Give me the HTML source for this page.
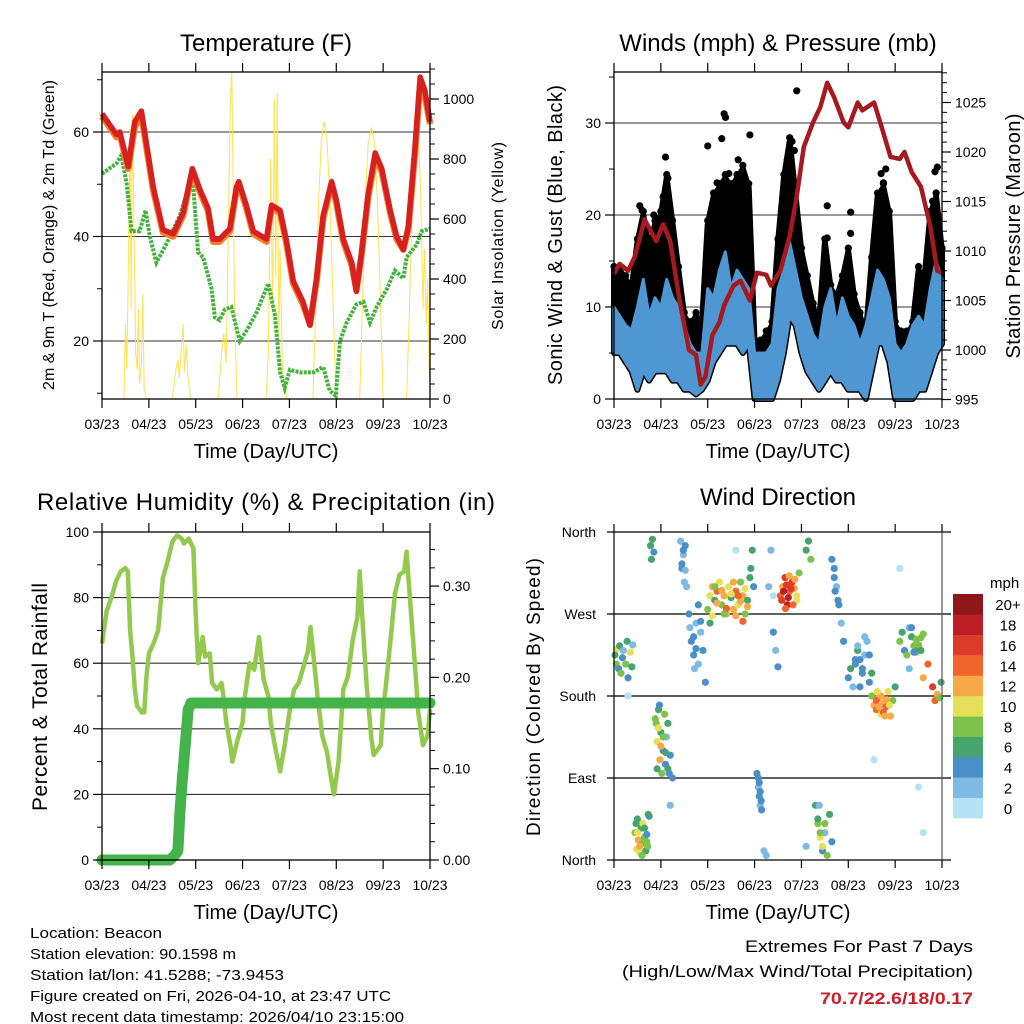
<!DOCTYPE html>
<html><head><meta charset="utf-8"><style>
html,body{margin:0;padding:0;background:#fff;}
svg{display:block;font-family:"Liberation Sans",Arial,sans-serif;}
</style></head><body>
<svg id="fig" width="1024" height="1024" viewBox="0 0 1024 1024" xmlns="http://www.w3.org/2000/svg"></svg>
<script>
// ---------- DATA ----------
var dayTickLabels = ["03/23","04/23","05/23","06/23","07/23","08/23","09/23","10/23"];
// Temperature
var tDays = [0,0.31,0.38,0.56,0.7,0.84,1.09,1.3,1.52,1.73,1.93,2.09,2.26,2.37,2.51,2.73,2.87,2.92,3.08,3.23,3.51,3.62,3.8,3.94,4.08,4.29,4.44,4.58,4.72,4.9,5.0,5.15,5.33,5.43,5.54,5.68,5.83,5.97,6.15,6.29,6.43,6.54,6.68,6.79,6.89,7.0];
var tempRed = [63.5,59.5,60,53.4,62,64,49.6,41.3,40.5,44.5,53,49,45.5,39.5,39.5,41.5,49.5,50.5,46,41,39.5,46,45,39,31.5,27.5,23,32,44,50.5,47,39.5,35,29.5,37,48,56,53,45,40,37.5,42,57,70.5,68,62];
var tempOrange = [63,59,59.5,53,61,63.2,49,40.8,40,44,52.5,48.5,45,39,39,41,49,50,45.5,40.5,39,45.5,44.5,38.5,31,27,23.2,31.5,43.5,50,46.5,39,34.5,29.8,36.5,47.5,55,52.5,44.5,39.5,37.5,41.5,56,69.5,67,61.5];
var tdDays = [0,0.31,0.41,0.53,0.63,0.8,0.93,1.02,1.16,1.37,1.66,1.8,1.93,2.05,2.16,2.34,2.41,2.51,2.62,2.76,2.94,3.12,3.3,3.55,3.69,3.8,3.9,4.01,4.22,4.51,4.72,4.86,4.99,5.08,5.22,5.43,5.58,5.72,5.86,6.08,6.25,6.43,6.5,6.72,6.82,7.0];
var dewpoint = [52,54,55.5,50,41,41,45,40,35,38.5,44,48,52,37,36,30,24.5,24,26,26.5,20,22.5,25.5,31,25,14,11,14.5,14,14,15,10.5,9.5,20,23.5,27,27.5,23.5,26.5,30,33.5,32,36,38.5,41,41.5];
var solarDays = [0,0.47,0.5,0.53,0.56,0.6,0.62,0.65,0.68,0.72,0.75,0.78,0.8,0.84,0.87,0.9,0.95,1.5,1.58,1.62,1.65,1.7,1.73,1.76,1.8,1.84,1.9,2.48,2.55,2.6,2.65,2.7,2.74,2.77,2.8,2.83,2.88,3.5,3.55,3.6,3.64,3.68,3.71,3.74,3.77,3.8,3.85,3.95,4.5,4.56,4.62,4.68,4.74,4.8,4.86,4.92,4.98,5.0,5.5,5.56,5.62,5.68,5.75,5.82,5.88,5.94,6.0,6.5,6.56,6.62,6.68,6.72,6.75,6.8,6.85,6.88,6.92,6.95,6.98,7.0];
var solarVals = [0,0,250,100,400,900,300,950,600,150,100,300,50,120,350,30,0,0,100,130,70,190,250,90,180,60,0,0,150,220,120,600,1000,1090,700,300,0,0,150,800,300,1000,400,1020,200,500,100,0,0,300,650,860,925,870,680,380,80,0,0,320,660,850,905,850,650,350,0,0,300,640,820,870,880,700,300,500,250,400,100,50];
// Winds (sampled every 1/8 day)
var windDays = [0,0.125,0.25,0.375,0.5,0.625,0.75,0.875,1,1.125,1.25,1.375,1.5,1.625,1.75,1.875,2,2.125,2.25,2.375,2.5,2.625,2.75,2.875,3,3.125,3.25,3.375,3.5,3.625,3.75,3.875,4,4.125,4.25,4.375,4.5,4.625,4.75,4.875,5,5.125,5.25,5.375,5.5,5.625,5.75,5.875,6,6.125,6.25,6.375,6.5,6.625,6.75,6.875,7];
var windLo = [5,5,4,3,1,3,2,3,3,3,2,2,1,1,0.5,1,2,4,5,6,6,6,5,6,0,0,0,0,2,5,9,8,5,3,2,1,2,3,2,2,1,1,1,0,3,6,6,4,0,0,0,0,1,1,3,5,6];
var windHi = [10,9,8,7.5,10,13,9,11,10,13,11,10,8,6,5,5,12,11,14,16,12,14,13,12,5,5,5,6,12,14,17,14,11,9,7,6,10,12,8,11,9,8,6,8,11,14,13,11,6,5,6,8,9,8,12,15,13];
var gustHi = [14,14,13,12,17,20,16,19,20,24,19,14,9,8,9,8,19,22,23,24,23,24,25,23,6,6,7,8,17,24,28,22,16,13,10,8,17,12,11,13,16,11,9,7,15,22,23,20,8,7,7,8,14,13,20,22,16];
var gustExtraDays = [2.0,2.3,2.35,2.38,2.9,3.9,3.8,4.55,4.55,5.05,5.05,6.9,6.85,1.1,0.55,0.85,3.85,2.65,1.15,5.8,0.6,1.05,2.2,2.45,2.7,3.7,3.78,5.7,5.75,6.8];
var gustExtraVals = [27.5,28.3,31,30.6,28.7,33.5,28,21,17.5,20.3,18,25.2,24.7,26.3,21,20,27,26,24,25,20.5,22,23.5,24.5,24,26,27,24.5,23.5,21.5];
var presDays = [0,0.12,0.3,0.45,0.6,0.65,0.9,1.05,1.2,1.4,1.6,1.75,1.85,1.95,2.1,2.25,2.35,2.55,2.7,2.9,3.05,3.25,3.35,3.55,3.75,3.9,4.05,4.25,4.4,4.55,4.7,4.9,5.0,5.2,5.3,5.55,5.7,5.9,6.1,6.2,6.35,6.55,6.75,6.9,7.0];
var pressure = [1007.7,1008.7,1008,1009.5,1012.2,1013.2,1011,1012.7,1011,1005,1000,999.5,996.5,997.3,1001.5,1002.8,1004.5,1006.5,1007,1005,1007.8,1007.6,1006.5,1008,1011.5,1015.5,1020.5,1023,1024.5,1027,1025.5,1023,1022.5,1025,1024.2,1025,1022.7,1019.5,1019.3,1020,1018,1016.5,1012.5,1008,1007.8];
// RH & precip
var rhDays = [0,0.1,0.2,0.3,0.4,0.5,0.55,0.6,0.65,0.7,0.75,0.85,0.9,0.95,1.0,1.1,1.2,1.3,1.4,1.5,1.6,1.7,1.75,1.85,1.95,2.0,2.05,2.15,2.2,2.3,2.35,2.45,2.55,2.6,2.65,2.75,2.78,2.9,3.0,3.05,3.15,3.25,3.35,3.45,3.55,3.6,3.7,3.8,3.9,4.0,4.1,4.2,4.3,4.4,4.45,4.5,4.6,4.7,4.8,4.9,4.95,5.05,5.15,5.25,5.35,5.45,5.5,5.55,5.65,5.75,5.8,5.95,6.0,6.05,6.15,6.25,6.35,6.45,6.5,6.55,6.65,6.75,6.85,6.95,7.0];
var rhVals = [66,76,80,85,88,89,88,70,62,52,47,45,45,56,63,66,70,86,91,97,99,98,96.5,98,95,75,60,68,62,63,54,52,54,49,42,34,30,37,42,50,60,58,68,55,50,42,34,27,35,45,52,54,59,64,71,64,50,38,33,24,20,30,52,56,67,74,88,75,53,37,32,35,46,52,66,81,87,88,94,84,65,45,35,38,46];
var precipDays = [0,1.45,1.55,1.62,1.66,1.7,1.75,1.8,1.84,1.9,7.0];
var precipVals = [0,0,0.005,0.01,0.05,0.08,0.11,0.14,0.165,0.172,0.172];
// Wind direction: [day, degrees, speed]
var dirDays = [0.02,0.05,0.08,0.1,0.12,0.15,0.18,0.2,0.25,0.28,0.3,0.35,0.38,0.4, 0.45,0.48,0.5,0.52,0.55,0.58,0.6,0.62,0.65,0.68,0.7,0.72,0.75, 0.78,0.8,0.82,0.85, 0.9,0.92,0.95,0.98,1.0,1.02,1.05,1.08,1.1,1.12,1.15,1.2,1.25, 1.42,1.45,1.48,1.5,1.52,1.55, 1.6,1.62,1.65,1.7,1.72,1.75,1.8,1.85,1.9,1.95, 2.0,2.05,2.1,2.15,2.2,2.25,2.3,2.35,2.4,2.45,2.5,2.55,2.6,2.65,2.7,2.75,2.8,2.85,2.9, 2.92,2.95,2.98, 3.05,3.08,3.1,3.12,3.15,3.2,3.25,3.3,3.35,3.4,3.45,3.5, 3.55,3.6,3.65,3.7,3.75,3.8,3.85,3.9,3.95, 4.1,4.15,4.2, 4.3,4.35,4.4,4.45,4.5,4.55,4.6,4.65, 4.7,4.75,4.8,4.85,4.9, 5.0,5.05,5.1,5.15,5.2,5.25,5.3,5.35,5.4,5.45,5.5, 5.55,5.6,5.65,5.7,5.75,5.8,5.85,5.9,5.95,6.0, 6.1,6.15,6.2,6.25,6.3,6.35,6.4,6.45,6.5,6.55, 6.6,6.7,6.8,6.85,6.9,6.95,6.98, 0.3,1.2,2.6,3.4,4.1,5.55,6.1,6.5,6.6,6.3,
  2.1,2.2,2.3,2.4,2.5,2.6,2.7,2.75,2.8,2.55,2.35,2.15,2.05,2.65,2.85, 3.58,3.62,3.68,3.72,3.78,3.82,3.86,3.66,3.74,3.9, 0.88,0.95,1.0,1.05,1.1,1.15,0.92,1.18,0.97, 0.5,0.55,0.6,0.65,0.7,0.47,0.73, 5.6,5.65,5.7,5.75,5.82,5.88,5.62,5.78, 6.45,6.5,6.55,6.6,6.4,6.35, 5.15,5.2,5.3,5.35,5.45,5.5,5.25, 1.45,1.48,1.52,1.7,1.75,1.8,1.85, 4.65,4.7,4.72,4.78, 4.35,4.4,4.45,4.5,4.38, 3.08,3.1,3.12,3.14];
var dirDegs = [225,215,232,210,235,205,222,230,215,240,200,228,212,236, 30,12,45,22,8,35,18,40,25,10,28,15,48, 345,330,352,338, 150,130,165,110,140,95,120,160,105,135,100,115,90, 350,320,335,305,345,300, 270,255,240,225,210,260,280,250,230,195, 275,290,300,285,295,305,280,290,270,300,288,275,295,280,305,290,270,285,310, 320,340,300, 95,80,70,60,55,10,5,300,340,250,230,212, 290,300,310,280,295,305,298,285,315, 340,350,330, 60,40,25,10,30,5,50,20, 320,300,280,260,240, 200,210,190,215,230,220,205,225,240,195,180, 170,165,178,160,172,168,185,158,175,190, 240,250,230,225,255,245,235,228,232,244, 200,215,190,175,182,178,195, 180,60,340,290,15,110,320,80,30,210,
  268,282,296,276,292,268,284,262,298,305,270,300,260,290,278, 285,295,302,288,298,280,308,276,312,290, 155,145,125,135,118,150,100,95,170, 30,15,5,35,20,40,50, 175,168,180,162,176,170,185,158, 242,236,230,248,228,255, 220,235,210,245,225,205,190, 325,340,318,245,232,215,262, 330,310,295,285, 45,30,15,40,60, 90,85,75,65];
var dirSpds = [6,8,10,5,7,9,4,3,8,6,4,10,7,3, 9,11,7,12,10,6,8,11,9,7,5,8,4, 6,6,7,5, 9,11,7,12,6,8,5,9,4,3,6,4,5, 3,4,2,3,4,2, 4,3,4,4,3,2,4,3,4,5, 8,10,12,6,14,11,9,13,12,10,7,12,14,11,9,13,8,6,7, 6,7,5, 4,3,4,3,4,3,2,2,3,4,3,4, 14,12,16,18,15,17,13,10,8, 7,6,8, 6,8,10,4,3,9,7,5, 4,3,4,3,5, 4,7,3,4,6,5,4,3,2,4,9, 13,14,12,10,13,15,11,12,9,7, 8,7,4,8,3,6,8,9,7,8, 13,15,16,14,12,8,6, 0,2,1,0,2,1,0,1,1,2,
  10,12,13,14,11,12,13,14,10,12,8,9,6,14,12, 16,18,17,19,16,14,12,15,13,10, 8,10,12,9,7,6,6,4,5, 10,12,8,7,9,6,6, 14,13,12,14,13,11,10,12, 8,8,7,8,4,4, 4,3,4,2,4,6,4, 4,4,3,4,4,3,4, 4,4,4,4, 6,8,10,8,3, 4,4,4,4];
var speedBins = ["0","2","4","6","8","10","12","14","16","18","20+"];
var speedColors = ["#b5e2f7","#7ebae4","#4a8fc7","#47a46d","#7cc24b","#e6df58","#f6a946","#f0652b","#dd3a2a","#bd1d24","#8e1719"];

// ---------- DRAWING ----------
var NS="http://www.w3.org/2000/svg";
var svg=document.getElementById('fig');
function el(tag,attrs,parent){var e=document.createElementNS(NS,tag);for(var k in attrs)e.setAttribute(k,attrs[k]);(parent||svg).appendChild(e);return e;}
function txt(s,attrs,parent){var e=el('text',attrs,parent);e.textContent=s;return e;}
function poly(xs,ys,fx,fy){var p=[];for(var i=0;i<xs.length;i++)p.push(fx(xs[i]).toFixed(1)+','+fy(ys[i]).toFixed(1));return p.join(' ');}

function frame(g,x0,x1,y0,y1){
  var r=el('rect',{x:x0,y:y0,width:x1-x0,height:y1-y0,fill:'none',stroke:'#000','stroke-width':1.3},g);
  
  
  var fx=function(d){return x0+(x1-x0)*d/7;};
  for(var i=0;i<8;i++){
    var x=fx(i);
    el('line',{x1:x,x2:x,y1:y1,y2:y1+9,stroke:'#000','stroke-width':1.2},g);
    el('line',{x1:x,x2:x,y1:y0,y2:y0-9,stroke:'#000','stroke-width':1.2},g);
    var t=txt(dayTickLabels[i],{x:x,y:y1+30,'font-size':14,'text-anchor':'middle'},g);
    
    
  }
  var xl=txt('Time (Day/UTC)',{x:(x0+x1)/2,y:y1+59,'font-size':20,'text-anchor':'middle'},g);
  
  
  return fx;
}
function yAxis(g,x,side,ticks,labels,fy,minor,fs){
  var dir=side==='left'?-1:1;
  for(var i=0;i<ticks.length;i++){
    var y=fy(ticks[i]);
    el('line',{x1:x,x2:x+dir*9,y1:y,y2:y,stroke:'#000','stroke-width':1.2},g);
    var t=txt(labels[i],{x:x+dir*13,y:y+5,'font-size':fs||15,'text-anchor':side==='left'?'end':'start'},g);
    
    
  }
  for(var j=0;j<minor.length;j++){var ym=fy(minor[j]);el('line',{x1:x,x2:x+dir*5,y1:ym,y2:ym,stroke:'#000','stroke-width':1},g);}
}
function grid(g,x0,x1,ys,fy){for(var i=0;i<ys.length;i++){var y=fy(ys[i]);el('line',{x1:x0,x2:x1,y1:y,y2:y,stroke:'#333','stroke-width':1.1},g);}}
function vtitle(g,s,x,y,fs,len){var t=txt(s,{x:0,y:0,'font-size':fs,'text-anchor':'middle',transform:'translate('+x+','+y+') rotate(-90)'},g);if(len)t.setAttribute('textLength',len);return t;}

// ===== Panel 1: Temperature =====
(function(){
  var g=el('g',{});
  
  
  var X0=102,X1=430,Y0=72,Y1=399;
  var fy=function(v){return 341-(v-20)*5.225;};
  var fs=function(v){return 399-v*0.3;};
  grid(g,X0,X1,[20,40,60],fy);
  var fx=function(d){return X0+(X1-X0)*d/7;};
  var sl=el('polyline',{points:poly(solarDays,solarVals,fx,fs),fill:'none',stroke:'#ffe14d','stroke-width':1},g);
  
  
  var dp=el('polyline',{points:poly(tdDays,dewpoint,fx,fy),fill:'none',stroke:'#44b23f','stroke-width':4,'stroke-dasharray':'3 1.2'},g);
  
  
  var or=el('polyline',{points:poly(tDays,tempOrange,fx,fy),fill:'none',stroke:'#f0822a','stroke-width':6.5,'stroke-linejoin':'round'},g);
  
  
  var rd=el('polyline',{points:poly(tDays,tempRed,fx,fy),fill:'none',stroke:'#d7201f','stroke-width':5.5,'stroke-linejoin':'round'},g);
  
  
  frame(g,X0,X1,Y0,Y1);
  yAxis(g,X0,'left',[20,40,60],['20','40','60'],fy,[10,30,50,70],14);
  yAxis(g,X1,'right',[0,200,400,600,800,1000],['0','200','400','600','800','1000'],fs,[50,100,150,250,300,350,450,500,550,650,700,750,850,900,950,1050,1100],14);
  var t=txt('Temperature (F)',{x:266,y:51,'font-size':24,'text-anchor':'middle'},g);
  
  
  var a=vtitle(g,'2m & 9m T (Red, Orange) & 2m Td (Green)',54,235,16,310);
  
  
  var b=vtitle(g,'Solar Insolation (Yellow)',503,236,16,188);
  
  
})();

// ===== Panel 2: Winds =====
(function(){
  var g=el('g',{});
  
  
  var X0=614,X1=942,Y0=72,Y1=399;
  var fy=function(v){return 399-v*9.2;};
  var fp=function(v){return 350-(v-1000)*9.9;};
  grid(g,X0,X1,[10,20,30],fy);
  var fx=function(d){return X0+(X1-X0)*d/7;};
  var gp=poly(windDays,gustHi,fx,fy)+' '+poly(windDays.slice().reverse(),windLo.slice().reverse(),fx,fy);
  var ga=el('polygon',{points:gp,fill:'#000',stroke:'#000','stroke-width':6,'stroke-linejoin':'round'},g);
  
  
  for(var i=0;i<windDays.length;i++){
    var c=el('circle',{cx:fx(windDays[i]),cy:fy(gustHi[i]+0.4),r:3.6,fill:'#000'},g);
    
    
  }
  for(var k=0;k<gustExtraDays.length;k++){
    var c2=el('circle',{cx:fx(gustExtraDays[k]),cy:fy(gustExtraVals[k]),r:3.6,fill:'#000'},g);
    
    
  }
  var bp=poly(windDays,windHi,fx,fy)+' '+poly(windDays.slice().reverse(),windLo.slice().reverse(),fx,fy);
  var ba=el('polygon',{points:bp,fill:'#4f97d2',stroke:'#4f97d2','stroke-width':3,'stroke-linejoin':'round'},g);
  
  
  var pl=el('polyline',{points:poly(presDays,pressure,fx,fp),fill:'none',stroke:'#a51a1e','stroke-width':4.5,'stroke-linejoin':'round'},g);
  
  
  frame(g,X0,X1,Y0,Y1);
  yAxis(g,X0,'left',[0,10,20,30],['0','10','20','30'],fy,[5,15,25,35],14);
  var pm=[];for(var m=996;m<=1028;m++){if(m%5)pm.push(m);}
  yAxis(g,X1,'right',[995,1000,1005,1010,1015,1020,1025],['995','1000','1005','1010','1015','1020','1025'],fp,pm,14);
  var t=txt('Winds (mph) & Pressure (mb)',{x:778,y:51,'font-size':24,'text-anchor':'middle'},g);
  
  
  var a=vtitle(g,'Sonic Wind & Gust (Blue, Black)',562,235,20,300);
  
  
  var b=vtitle(g,'Station Pressure (Maroon)',1020,236,20,245);
  
  
})();

// ===== Panel 3: RH & Precip =====
(function(){
  var g=el('g',{});
  
  
  var X0=102,X1=430,Y0=532,Y1=860;
  var fy=function(v){return 860-v*3.28;};
  var fr=function(v){return 860-v*913;};
  grid(g,X0,X1,[20,40,60,80],fy);
  var fx=function(d){return X0+(X1-X0)*d/7;};
  var rh=el('polyline',{points:poly(rhDays,rhVals,fx,fy),fill:'none',stroke:'#92c94e','stroke-width':4.5,'stroke-linejoin':'round'},g);
  
  
  var pr=el('polyline',{points:poly(precipDays,precipVals,fx,fr),fill:'none',stroke:'#44b34a','stroke-width':11,'stroke-linejoin':'round','stroke-linecap':'round'},g);
  
  
  frame(g,X0,X1,Y0,Y1);
  yAxis(g,X0,'left',[0,20,40,60,80,100],['0','20','40','60','80','100'],fy,[10,30,50,70,90],14);
  yAxis(g,X1,'right',[0,0.1,0.2,0.3],['0.00','0.10','0.20','0.30'],fr,[0.02,0.04,0.06,0.08,0.12,0.14,0.16,0.18,0.22,0.24,0.26,0.28,0.32,0.34],14);
  var t=txt('Relative Humidity (%) & Precipitation (in)',{x:266,y:510,'font-size':24,'text-anchor':'middle'},g);
  t.setAttribute('textLength',458);
  
  
  var a=vtitle(g,'Percent & Total Rainfall',47,697,21,228);
  
  
})();

// ===== Panel 4: Wind direction =====
(function(){
  var g=el('g',{});
  
  
  var X0=614,X1=942,Y0=532,Y1=860;
  var fy=function(v){return 860-v/360*328;};
  var fx=function(d){return X0+(X1-X0)*d/7;};
  var names=['North','East','South','West','North'];
  for(var i=0;i<5;i++){
    var y=fy(i*90);
    el('line',{x1:607,x2:951,y1:y,y2:y,stroke:'#000','stroke-width':1.2},g);
    var t=txt(names[i],{x:596,y:y+5,'font-size':14,'text-anchor':'end'},g);
    
    
  }
  for(var k=0;k<dirDays.length;k++){
    var bin=Math.min(10,Math.floor(dirSpds[k]/2+0.0001));
    var c=el('circle',{cx:fx(dirDays[k]),cy:fy(dirDegs[k]),r:3.6,fill:speedColors[bin]},g);
    
    
  }
  el('line',{x1:X0,x2:X0,y1:Y0,y2:Y1,stroke:'#000','stroke-width':1.2},g);
  el('line',{x1:X1,x2:X1,y1:Y0,y2:Y1,stroke:'#555','stroke-width':1.2},g);
  for(var j=0;j<8;j++){
    var x=fx(j);
    el('line',{x1:x,x2:x,y1:Y1,y2:Y1+8,stroke:'#000','stroke-width':1.2},g);
    el('line',{x1:x,x2:x,y1:Y0,y2:Y0-8,stroke:'#000','stroke-width':1.2},g);
    var tl=txt(dayTickLabels[j],{x:x,y:Y1+30,'font-size':14,'text-anchor':'middle'},g);
    
    
  }
  var xl=txt('Time (Day/UTC)',{x:778,y:919,'font-size':20,'text-anchor':'middle'},g);
  
  
  var t2=txt('Wind Direction',{x:778,y:505,'font-size':24,'text-anchor':'middle'},g);
  
  
  var a=vtitle(g,'Direction (Colored By Speed)',540,697,19,278);
  
  
  var cb=el('g',{},g);
  
  
  var h=(818-594)/11;
  for(var b=0;b<11;b++){
    var yy=818-(b+1)*h;
    var r=el('rect',{x:953,y:yy,width:30,height:h+0.3,fill:speedColors[b]},cb);
    
    
    var lt=txt(speedBins[b],{x:1008,y:yy+h/2+6,'font-size':15,'text-anchor':'middle'},cb);
    
    
  }
  var mp=txt('mph',{x:990,y:588,'font-size':15},cb);
  
  
})();

// ===== footer text =====
(function(){
  var g=el('g',{});
  
  
  var lines=['Location: Beacon','Station elevation: 90.1598 m','Station lat/lon: 41.5288; -73.9453','Figure created on Fri, 2026-04-10, at 23:47 UTC','Most recent data timestamp: 2026/04/10 23:15:00'];
  var lens=[132,206,254,361,374];
  for(var i=0;i<lines.length;i++){
    var t=txt(lines[i],{x:30,y:938+i*21,'font-size':15,textLength:lens[i],lengthAdjust:'spacingAndGlyphs'},g);
    
    
  }
  var g2=el('g',{});
  
  
  var e1=txt('Extremes For Past 7 Days',{x:973,y:952,'font-size':17,'text-anchor':'end',textLength:228,lengthAdjust:'spacingAndGlyphs'},g2);
  
  
  var e2=txt('(High/Low/Max Wind/Total Precipitation)',{x:973,y:977,'font-size':17,'text-anchor':'end',textLength:351,lengthAdjust:'spacingAndGlyphs'},g2);
  
  
  var e3=txt('70.7/22.6/18/0.17',{x:973,y:1004,'font-size':17,'font-weight':'bold',fill:'#c8202a','text-anchor':'end',textLength:153,lengthAdjust:'spacingAndGlyphs'},g2);
  
  
})();
</script>
</body></html>
